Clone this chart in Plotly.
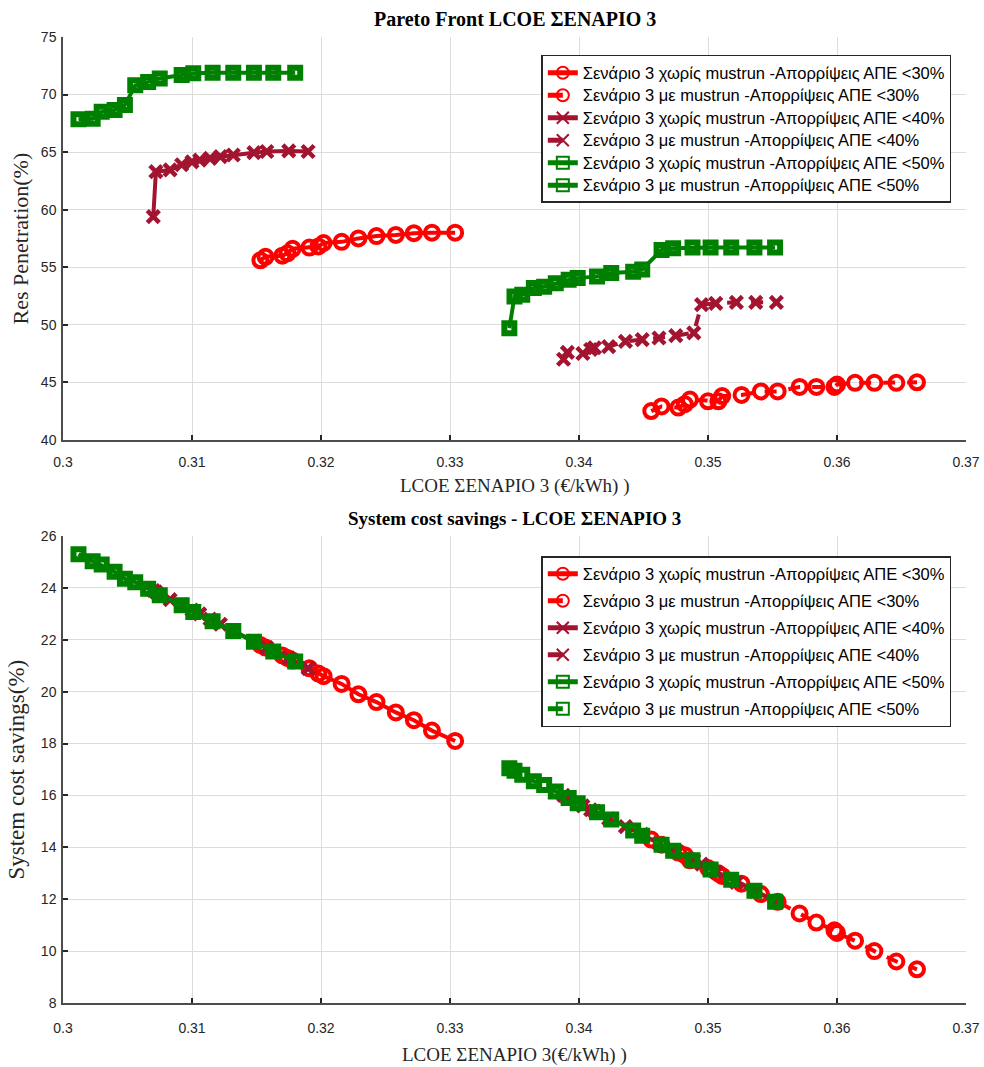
import plotly.graph_objects as go

# ---- data: LCOE (€/kWh), RES penetration (%), system cost savings (%) ----
lcoe_30_no = [0.3153, 0.3157, 0.3170, 0.3174, 0.3178, 0.3191, 0.3198, 0.3202, 0.3216, 0.3229, 0.3243, 0.3258, 0.3272, 0.3286, 0.3304]
res_30_no = [55.6, 55.9, 56.0, 56.2, 56.6, 56.7, 56.8, 57.1, 57.2, 57.5, 57.7, 57.8, 57.95, 58.0, 58.0]
sav_30_no = [21.8, 21.7, 21.4, 21.3, 21.2, 20.9, 20.7, 20.6, 20.3, 19.9, 19.6, 19.2, 18.9, 18.5, 18.1]

lcoe_30_mr = [0.3456, 0.3464, 0.3477, 0.3482, 0.3486, 0.3500, 0.3508, 0.3511, 0.3526, 0.3541, 0.3554, 0.3571, 0.3584, 0.3598, 0.3600, 0.3614, 0.3629, 0.3646, 0.3662]
res_30_mr = [42.5, 42.9, 42.8, 43.1, 43.5, 43.35, 43.35, 43.8, 43.9, 44.2, 44.2, 44.6, 44.6, 44.6, 44.8, 44.95, 44.95, 44.95, 45.0]
sav_30_mr = [14.3, 14.1, 13.8, 13.7, 13.5, 13.2, 13.0, 12.9, 12.6, 12.2, 11.9, 11.45, 11.1, 10.8, 10.7, 10.4, 10.0, 9.6, 9.3]

lcoe_40_no = [0.3070, 0.3072, 0.3083, 0.3092, 0.3100, 0.3106, 0.3114, 0.3122, 0.3132, 0.3148, 0.3158, 0.3175, 0.3190]
res_40_no = [59.4, 63.3, 63.45, 63.9, 64.15, 64.3, 64.45, 64.6, 64.75, 64.95, 65.05, 65.1, 65.05]
sav_40_no = [23.9, 23.85, 23.55, 23.35, 23.15, 23.0, 22.8, 22.6, 22.35, 21.95, 21.7, 21.3, 20.9]

lcoe_40_mr = [0.3388, 0.3391, 0.3403, 0.3409, 0.3412, 0.3423, 0.3436, 0.3449, 0.3462, 0.3475, 0.3489, 0.3495, 0.3506, 0.3522, 0.3537, 0.3553]
res_40_mr = [47.0, 47.6, 47.5, 47.85, 48.0, 48.1, 48.55, 48.7, 48.85, 49.05, 49.3, 51.75, 51.85, 51.95, 51.95, 51.95]
sav_40_mr = [16.0, 15.9, 15.6, 15.45, 15.4, 15.1, 14.8, 14.5, 14.15, 13.85, 13.5, 13.35, 13.05, 12.65, 12.3, 11.9]

lcoe_50_no = [0.3012, 0.3023, 0.3030, 0.3040, 0.3048, 0.3056, 0.3066, 0.3075, 0.3092, 0.3101, 0.3116, 0.3132, 0.3148, 0.3163, 0.3180]
res_50_no = [67.85, 67.9, 68.5, 68.65, 69.1, 70.8, 71.1, 71.4, 71.7, 71.85, 71.9, 71.9, 71.9, 71.9, 71.9]
sav_50_no = [25.3, 25.03, 24.9, 24.62, 24.35, 24.22, 23.97, 23.72, 23.33, 23.07, 22.72, 22.34, 21.93, 21.55, 21.16]

lcoe_50_mr = [0.3346, 0.3350, 0.3356, 0.3365, 0.3373, 0.3382, 0.3392, 0.3399, 0.3414, 0.3425, 0.3442, 0.3449, 0.3464, 0.3473, 0.3488, 0.3502, 0.3518, 0.3536, 0.3552]
res_50_mr = [49.7, 52.45, 52.6, 53.2, 53.3, 53.6, 53.9, 54.05, 54.2, 54.5, 54.6, 54.8, 56.5, 56.65, 56.7, 56.7, 56.7, 56.7, 56.7]
sav_50_mr = [17.05, 16.95, 16.8, 16.55, 16.4, 16.15, 15.9, 15.7, 15.35, 15.07, 14.65, 14.45, 14.1, 13.87, 13.5, 13.15, 12.75, 12.33, 11.9]

names = [
    "Σενάριο 3 χωρίς mustrun -Απορρίψεις ΑΠΕ <30%",
    "Σενάριο 3 με mustrun -Απορρίψεις ΑΠΕ <30%",
    "Σενάριο 3 χωρίς mustrun -Απορρίψεις ΑΠΕ <40%",
    "Σενάριο 3 με mustrun -Απορρίψεις ΑΠΕ <40%",
    "Σενάριο 3 χωρίς mustrun -Απορρίψεις ΑΠΕ <50%",
    "Σενάριο 3 με mustrun -Απορρίψεις ΑΠΕ <50%",
]

RED = "#FF0000"
DARKRED = "#A2142F"
GREEN = "#008000"

x_ticks = [0.30, 0.31, 0.32, 0.33, 0.34, 0.35, 0.36, 0.37]
x_tick_text = ["0.3", "0.31", "0.32", "0.33", "0.34", "0.35", "0.36", "0.37"]
y1_ticks = [40, 45, 50, 55, 60, 65, 70, 75]
y2_ticks = [8, 10, 12, 14, 16, 18, 20, 22, 24, 26]

series = [
    (lcoe_30_no, res_30_no, sav_30_no, RED, "circle-open", "solid", "solid"),
    (lcoe_30_mr, res_30_mr, sav_30_mr, RED, "circle-open", "dash", "dash"),
    (lcoe_40_no, res_40_no, sav_40_no, DARKRED, "x-thin", "solid", "solid"),
    (lcoe_40_mr, res_40_mr, sav_40_mr, DARKRED, "x-thin", "dash", "dash"),
    (lcoe_50_no, res_50_no, sav_50_no, GREEN, "square-open", "solid", "solid"),
    (lcoe_50_mr, res_50_mr, sav_50_mr, GREEN, "square-open", "solid", "dash"),
]


def marker_for(symbol, color):
    if symbol == "circle-open":
        return dict(symbol=symbol, size=14, color=color, line=dict(color=color, width=4))
    if symbol == "x-thin":
        return dict(symbol=symbol, size=12, color=color, line=dict(color=color, width=4.5))
    return dict(symbol=symbol, size=10, color=color, line=dict(color=color, width=6))


def legend_label(text):
    # legend rows are spaced by the legend font; the label itself is drawn a bit larger
    return f'<span style="font-size:16.5px">{text}</span>'


fig = go.Figure()

for i, (x, yr, ys, color, sym, dash_top, dash_bot) in enumerate(series):
    fig.add_trace(go.Scatter(
        x=x, y=yr, mode="lines+markers", name=legend_label(names[i]),
        line=dict(color=color, width=4, dash=dash_top),
        marker=marker_for(sym, color),
        xaxis="x", yaxis="y", legend="legend", legendgroup=f"top{i}",
    ))

for i, (x, yr, ys, color, sym, dash_top, dash_bot) in enumerate(series):
    fig.add_trace(go.Scatter(
        x=x, y=ys, mode="lines+markers", name=legend_label(names[i]),
        line=dict(color=color, width=4, dash=dash_bot),
        marker=marker_for(sym, color),
        xaxis="x2", yaxis="y2", legend="legend2", legendgroup=f"bot{i}",
    ))

TICK_FONT = dict(family="Liberation Sans Narrow, Arial Narrow, Liberation Sans, Arial", size=14, color="#262626")
LABEL_FONT = "Liberation Serif, DejaVu Serif, serif"
LEGEND_FONT = dict(family="Liberation Sans, Arial", size=15, color="#000000")

axis_common = dict(
    showgrid=True, gridcolor="#DCDCDC", gridwidth=1,
    showline=True, linecolor="#4D4D4D", linewidth=1.5,
    ticks="inside", ticklen=5, tickwidth=1.5, tickcolor="#262626",
    zeroline=False, tickfont=TICK_FONT, mirror=False, automargin=False,
)

fig.update_layout(
    width=984, height=1067,
    margin=dict(l=63, r=18, t=37, b=64),
    paper_bgcolor="white", plot_bgcolor="white",
    showlegend=True,
    xaxis=dict(axis_common, domain=[0, 1], range=[0.30, 0.37], tickvals=x_ticks, ticktext=x_tick_text,
               anchor="y", ticklabelstandoff=9),
    yaxis=dict(axis_common, domain=[0.583, 1.0], range=[40, 75], tickvals=y1_ticks, anchor="x",
               ticklabelstandoff=2),
    xaxis2=dict(axis_common, domain=[0, 1], range=[0.30, 0.37], tickvals=x_ticks, ticktext=x_tick_text,
                anchor="y2", ticklabelstandoff=11),
    yaxis2=dict(axis_common, domain=[0.0, 0.4834], range=[8, 26], tickvals=y2_ticks, anchor="x2",
                ticklabelstandoff=2),
    legend=dict(
        x=0.5297, y=0.9814, xanchor="left", yanchor="top",
        bgcolor="white", bordercolor="#262626", borderwidth=1.5,
        font=LEGEND_FONT, traceorder="grouped", tracegroupgap=0, itemsizing="constant",
    ),
    legend2=dict(
        x=0.5297, y=0.4627, xanchor="left", yanchor="top",
        bgcolor="white", bordercolor="#262626", borderwidth=1.5,
        font=LEGEND_FONT, traceorder="grouped", tracegroupgap=4.5, itemsizing="constant",
    ),
    annotations=[
        dict(text="<b>Pareto Front LCOE ΣΕΝΑΡΙΟ 3</b>", x=0.5, y=1.0, xref="paper", yref="paper",
             xanchor="center", yanchor="bottom", yshift=5, showarrow=False,
             font=dict(family=LABEL_FONT, size=20, color="#000000")),
        dict(text="LCOE ΣΕΝΑΡΙΟ 3 (€/kWh) )", x=0.5, y=0.583, xref="paper", yref="paper",
             xanchor="center", yanchor="top", yshift=-33, showarrow=False,
             font=dict(family=LABEL_FONT, size=19, color="#262626")),
        dict(text="Res Penetration(%)", x=0, y=0.7915, xref="paper", yref="paper",
             xanchor="center", yanchor="middle", xshift=-43, textangle=-90, showarrow=False,
             font=dict(family=LABEL_FONT, size=22, color="#262626")),
        dict(text="<b>System cost savings - LCOE ΣΕΝΑΡΙΟ 3</b>", x=0.5, y=0.4834, xref="paper", yref="paper",
             xanchor="center", yanchor="bottom", yshift=5, showarrow=False,
             font=dict(family=LABEL_FONT, size=19, color="#000000")),
        dict(text="LCOE ΣΕΝΑΡΙΟ 3(€/kWh) )", x=0.5, y=0.0, xref="paper", yref="paper",
             xanchor="center", yanchor="top", yshift=-39, showarrow=False,
             font=dict(family=LABEL_FONT, size=19, color="#262626")),
        dict(text="System cost savings(%)", x=0, y=0.2417, xref="paper", yref="paper",
             xanchor="center", yanchor="middle", xshift=-46, textangle=-90, showarrow=False,
             font=dict(family=LABEL_FONT, size=23, color="#262626")),
    ],
)

fig.write_html("out.html")
